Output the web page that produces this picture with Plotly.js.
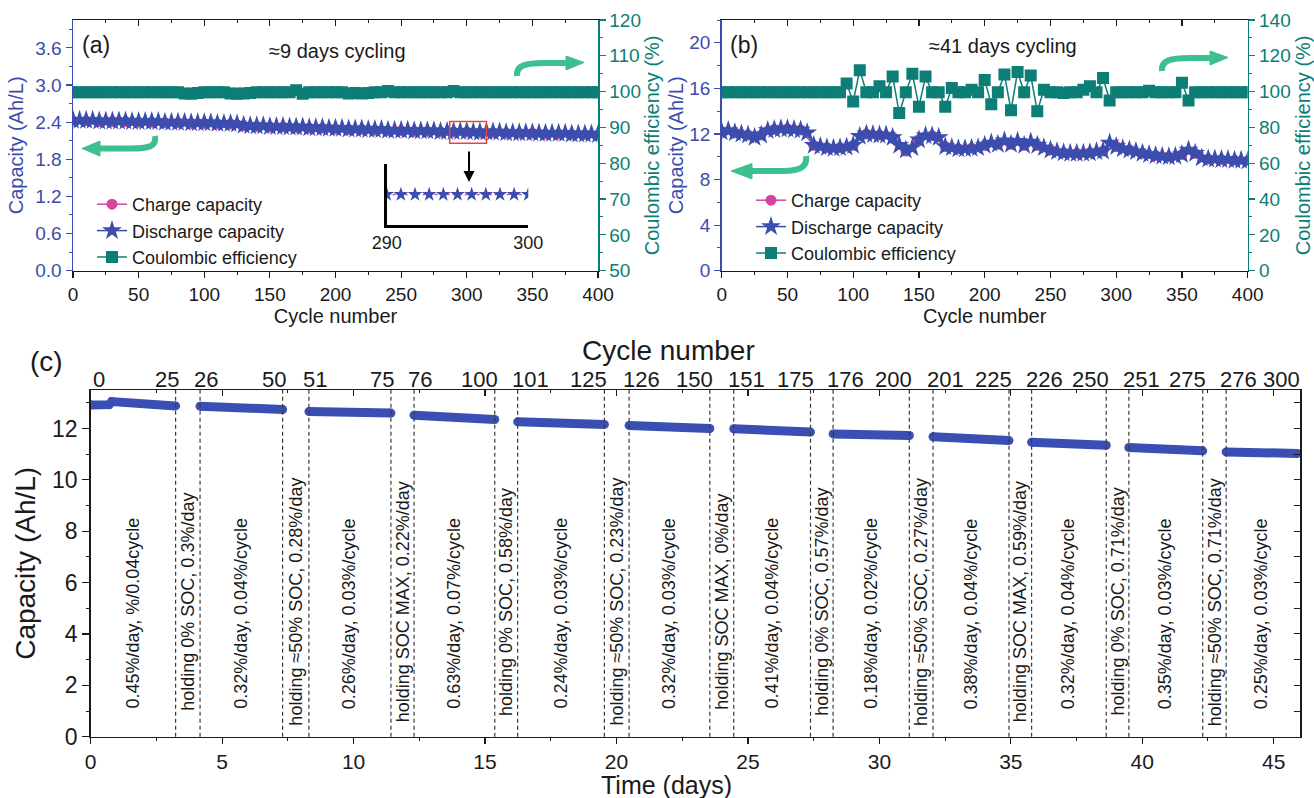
<!DOCTYPE html>
<html>
<head>
<meta charset="utf-8">
<script src="https://cdn.plot.ly/plotly-3.0.1.min.js"></script>
<style>html,body{margin:0;padding:0;background:#fff;}#chart{width:1314px;height:798px;}</style>
</head>
<body>
<div id="chart"></div>
<script>
// ---------------- DATA ----------------
// Panel (a): ~9 days cycling
const aCyc5 = [0,5,10,15,20,25,30,35,40,45,50,55,60,65,70,75,80,85,90,95,100,105,110,115,120,125,130,135,140,145,150,155,160,165,170,175,180,185,190,195,200,205,210,215,220,225,230,235,240,245,250,255,260,265,270,275,280,285,290,295,300,305,310,315,320,325,330,335,340,345,350,355,360,365,370,375,380,385,390,395,400];
const aCyc10 = [0,10,20,30,40,50,60,70,80,90,100,110,120,130,140,150,160,170,180,190,200,210,220,230,240,250,260,270,280,290,300,310,320,330,340,350,360,370,380,390,400];
const aDischarge = [2.43,2.43,2.43,2.43,2.42,2.42,2.42,2.42,2.42,2.41,
  2.41,2.41,2.41,2.41,2.40,2.40,2.40,2.40,2.39,2.39,
  2.39,2.39,2.38,2.38,2.38,2.37,2.35,2.34,2.34,2.34,
  2.33,2.33,2.33,2.32,2.32,2.32,2.31,2.31,2.31,2.30,
  2.30,2.30,2.29,2.29,2.29,2.28,2.28,2.28,2.27,2.27,
  2.27,2.27,2.26,2.26,2.26,2.26,2.25,2.25,2.25,2.25,
  2.25,2.24,2.24,2.24,2.24,2.24,2.23,2.23,2.23,2.23,
  2.23,2.22,2.22,2.22,2.22,2.22,2.21,2.21,2.21,2.21,
  2.20];
const aCharge = [2.42,2.42,2.41,2.41,2.41,2.40,2.40,2.39,2.39,2.38,
  2.38,2.37,2.37,2.34,2.33,2.32,2.32,2.31,2.30,2.30,
  2.29,2.28,2.28,2.27,2.26,2.26,2.25,2.25,2.24,2.24,
  2.24,2.23,2.23,2.22,2.22,2.22,2.21,2.21,2.20,2.20,
  2.19];
const aCE = [99.8,99.8,99.8,99.8,99.8,99.8,99.8,99.8,99.8,99.8,
  99.8,99.8,99.8,99.8,99.8,99.8,99.8,99.5,99.4,99.6,
  99.8,99.8,99.8,99.8,99.5,99.4,99.5,99.6,99.8,99.8,
  99.8,99.8,99.8,99.8,100.4,99.4,99.8,99.8,99.8,99.8,
  99.8,99.8,99.5,99.6,99.5,99.6,99.8,99.8,100.2,99.8,
  99.8,99.8,99.8,99.8,99.8,99.8,99.8,99.8,100.2,99.8,
  99.8,99.8,99.8,99.8,99.8,99.8,99.8,99.8,99.8,99.8,
  99.8,99.8,99.8,99.8,99.8,99.8,99.8,99.8,99.8,99.8,
  99.8];
// Inset of (a): cycles 290-300
const insetCyc = [290,291,292,293,294,295,296,297,298,299,300];
const insetDischarge = [2.25,2.25,2.25,2.25,2.25,2.25,2.25,2.25,2.25,2.25,2.25];
const insetCharge = [2.25,2.25,2.25,2.25,2.25,2.25,2.25,2.25,2.25,2.25,2.25];

// Panel (b): ~41 days cycling
const bDischarge = [12.2,12.3,12.1,12.0,11.9,11.7,11.9,12.3,12.4,12.45,
  12.45,12.4,12.35,12.1,11.0,10.9,10.8,10.75,10.8,10.85,
  11.0,11.8,12.0,11.95,11.9,11.9,11.7,11.0,10.6,10.8,
  11.5,11.85,11.85,11.7,10.9,10.8,10.7,10.7,10.75,10.8,
  11.0,11.2,11.1,11.4,11.1,11.35,11.0,11.3,11.0,10.8,
  10.6,10.45,10.35,10.3,10.3,10.3,10.35,10.45,10.5,11.2,
  10.9,10.7,10.6,10.45,10.3,10.2,10.1,10.05,10.0,10.05,
  10.2,10.6,10.3,9.9,9.8,9.8,9.75,9.75,9.7,9.7,
  9.65];
const bCharge = [12.2,12.1,11.9,11.9,12.4,12.45,12.35,11.0,10.8,10.8,
  11.0,12.0,11.9,11.7,10.5,11.5,11.85,10.9,10.7,10.75,
  11.0,11.1,11.1,11.0,11.0,10.6,10.35,10.3,10.35,10.5,
  10.9,10.6,10.3,10.1,10.0,10.2,10.3,9.8,9.75,9.7,
  9.65];
const bCE = [99.7,99.7,99.7,99.7,99.7,99.7,99.7,99.7,99.7,99.7,
  99.7,99.7,99.7,99.7,99.7,99.7,99.7,99.7,99.7,104.5,
  94.5,112,99.7,99.7,103,99.7,108.5,88,99.7,110,
  91.6,108.4,99.7,99.7,91.6,102,99.7,99.7,101,99.7,
  106.5,93,99.7,109.5,89.6,111,99.7,109,89,101,
  99.7,99.7,99.2,99.7,99.7,101,103,99.7,107.6,95,
  99.7,99.7,99.7,99.7,99.7,100.5,99.7,99.7,99.7,99.7,
  105,95,99.7,99.7,99.7,99.7,99.7,99.7,99.7,99.7,
  99.7];

// Panel (c): capacity vs time, 12 cycling segments separated by holding periods
const segStartCycle = [0,26,51,76,101,126,151,176,201,226,251,276];
const segEndCycle = [25,50,75,100,125,150,175,200,225,250,275,300];
const segDays = [[0,0.7,0.8,3.23],[4.16,7.30],[8.30,11.42],[12.30,15.37],[16.24,19.54],[20.48,23.55],
  [24.46,27.38],[28.24,31.14],[32.04,34.93],[35.79,38.63],[39.49,42.30],[43.19,45.90]];
const segCapacity = [[12.92,12.93,13.05,12.88],[12.87,12.74],[12.66,12.60],[12.52,12.35],[12.26,12.16],[12.12,12.00],
  [11.99,11.86],[11.79,11.73],[11.68,11.53],[11.47,11.35],[11.26,11.13],[11.09,11.03]];
const cycleLabels = ["0.45%/day, %/0.04cycle","0.32%/day, 0.04%/cycle","0.26%/day, 0.03%/cycle","0.63%/day, 0.07%/cycle",
  "0.24%/day, 0.03%/cycle","0.32%/day, 0.03%/cycle","0.41%/day, 0.04%/cycle","0.18%/day, 0.02%/cycle",
  "0.38%/day, 0.04%/cycle","0.32%/day, 0.04%/cycle","0.35%/day, 0.03%/cycle","0.25%/day, 0.03%/cycle"];
const holdLabels = ["holding 0% SOC, 0.3%/day","holding ≈50% SOC, 0.28%/day","holding SOC MAX, 0.22%/day",
  "holding 0% SOC, 0.58%/day","holding ≈50% SOC, 0.23%/day","holding SOC MAX, 0%/day",
  "holding 0% SOC, 0.57%/day","holding ≈50% SOC, 0.27%/day","holding SOC MAX, 0.59%/day",
  "holding 0% SOC, 0.71%/day","holding ≈50% SOC, 0.71%/day"];

// ---------------- STYLE ----------------
const W = 1314, H = 798;
const FONT = 'Liberation Sans, Arial, Helvetica, sans-serif';
const BLUE = '#3B4DAD', TEAL = '#0C7E76', PINK = '#D6459C', GREEN = '#3CC08E', BAND = '#3A4FB4', INK = '#1a1a1a';
const X = p => (p / W).toFixed(5);
const Y = p => (1 - p / H).toFixed(5);
const dom = (a, b) => [a / W, b / W];
const domY = (top, bot) => [1 - bot / H, 1 - top / H];

const A_X = dom(73, 598), B_X = dom(721.7, 1247.7), AB_Y = domY(20, 270.7);
const C_X = dom(90.7, 1300), C_Y = domY(390, 736.7);
const IN_X = dom(386.7, 528.3), IN_Y = domY(164, 225);

function bottomAxis(domain, anchor, range, dtick, minor, title, fs, tfs, standoff) {
  const ax = {domain, anchor, range, dtick, tick0: 0, ticks: 'outside', ticklen: 6, tickwidth: 1.2, tickcolor: INK,
    minor: {dtick: minor, ticks: 'outside', ticklen: 3, tickwidth: 1, tickcolor: INK},
    showline: true, linecolor: INK, linewidth: 1.5, showgrid: false, zeroline: false,
    tickfont: {size: tfs, color: INK, family: FONT}};
  if (title) ax.title = {text: title, font: {size: fs, color: INK, family: FONT}, standoff: standoff};
  return ax;
}
function topOverlay(over, anchor, range, dtick, minor) {
  return {overlaying: over, anchor, side: 'top', range, dtick, tick0: 0, ticks: 'inside', ticklen: 6, tickwidth: 1.2, tickcolor: INK,
    minor: {dtick: minor, ticks: 'inside', ticklen: 3, tickwidth: 1, tickcolor: INK},
    showticklabels: false, showline: true, linecolor: INK, linewidth: 1.5, showgrid: false, zeroline: false};
}
function sideAxis(opts) {
  const c = opts.color;
  return Object.assign({ticks: 'outside', ticklen: 6, tickwidth: 1.2, tickcolor: c,
    minor: {dtick: opts.minor, ticks: 'outside', ticklen: 3, tickwidth: 1, tickcolor: c},
    showline: true, linecolor: c, linewidth: 1.5, showgrid: false, zeroline: false,
    tickfont: {size: opts.tfs, color: c, family: FONT},
    title: {text: opts.title, font: {size: opts.fs, color: c, family: FONT}, standoff: opts.standoff}}, opts.extra);
}

// ---------------- TRACES ----------------
const traces = [];
function trio(xc, yc, cyc5, cyc10, chg, dis, ce, legend, yCE) {
  traces.push({x: cyc10, y: chg, xaxis: xc, yaxis: yc, type: 'scatter', mode: 'lines+markers', name: 'Charge capacity', legend,
    line: {color: PINK, width: 1.5}, marker: {symbol: 'circle', size: 11, color: PINK}});
  traces.push({x: cyc5, y: dis, xaxis: xc, yaxis: yc, type: 'scatter', mode: 'lines+markers', name: 'Discharge capacity', legend,
    line: {color: BLUE, width: 1.5}, marker: {symbol: 'star', size: 15, color: BLUE}});
  traces.push({x: cyc5, y: ce, xaxis: xc, yaxis: yCE, type: 'scatter', mode: 'lines+markers', name: 'Coulombic efficiency', legend,
    line: {color: TEAL, width: 1.5}, marker: {symbol: 'square', size: 12, color: TEAL}});
}
trio('x', 'y', aCyc5, aCyc10, aCharge, aDischarge, aCE, 'legend', 'y2');
trio('x5', 'y4', aCyc5, aCyc10, bCharge, bDischarge, bCE, 'legend2', 'y5');

// inset
traces.push({x: insetCyc, y: insetCharge, xaxis: 'x3', yaxis: 'y3', type: 'scatter', mode: 'lines', showlegend: false,
  line: {color: PINK, width: 1.5, dash: 'dot'}});
traces.push({x: insetCyc, y: insetDischarge, xaxis: 'x3', yaxis: 'y3', type: 'scatter', mode: 'markers', showlegend: false,
  marker: {symbol: 'star', size: 11, color: BLUE}});

// panel (c)
segDays.forEach((d, i) => {
  traces.push({x: d, y: segCapacity[i], xaxis: 'x7', yaxis: 'y6', type: 'scatter', mode: 'lines+markers', showlegend: false,
    line: {color: BAND, width: 9}, marker: {symbol: 'circle', size: 9, color: BAND}});
});
// empty traces to bind overlay axes
[['x4','y'],['x6','y4'],['x8','y6'],['x7','y7']].forEach(([xa, ya]) =>
  traces.push({x: [], y: [], xaxis: xa, yaxis: ya, type: 'scatter', mode: 'markers', showlegend: false, hoverinfo: 'skip'}));

// ---------------- ANNOTATIONS & SHAPES ----------------
const ann = [];
const shapes = [];
const txt = (x, y, text, size, extra) => ann.push(Object.assign({xref: 'paper', yref: 'paper', x: x / W, y: 1 - y / H, text, showarrow: false,
  xanchor: 'center', yanchor: 'middle', font: {size, color: INK, family: FONT}}, extra || {}));

txt(96, 45, '(a)', 23);
txt(337, 51, '≈9 days cycling', 20);
txt(744, 45, '(b)', 23);
txt(1003, 46, '≈41 days cycling', 20);
txt(46, 362, '(c)', 28);
txt(668, 350, 'Cycle number', 28);
txt(666, 785, 'Time (days)', 25);

// black arrow from red box to inset
ann.push({xref: 'paper', yref: 'paper', x: 469 / W, y: 1 - 182 / H, ax: 0, ay: -32, text: '', showarrow: true,
  arrowhead: 2, arrowsize: 1.1, arrowwidth: 2, arrowcolor: '#000'});
// red zoom box in (a)
shapes.push({type: 'rect', xref: 'x', yref: 'y', x0: 287, x1: 315, y0: 2.06, y1: 2.41, line: {color: '#E5483D', width: 1.5}});

// green curved arrows
function greenArrow(shaft, head) {
  shapes.push({type: 'path', xref: 'paper', yref: 'paper', path: shaft, line: {color: GREEN, width: 6}, fillcolor: 'rgba(0,0,0,0)'});
  shapes.push({type: 'path', xref: 'paper', yref: 'paper', path: head, line: {color: GREEN, width: 1}, fillcolor: GREEN});
}
greenArrow(`M${X(155)},${Y(136)} C${X(157)},${Y(147)} ${X(148)},${Y(148.5)} ${X(130)},${Y(148.5)} L${X(99)},${Y(148.5)}`,
  `M${X(100)},${Y(141)} L${X(82)},${Y(148.5)} L${X(100)},${Y(156)} Z`);
greenArrow(`M${X(517)},${Y(76)} C${X(516)},${Y(65)} ${X(526)},${Y(63)} ${X(545)},${Y(63)} L${X(567)},${Y(63)}`,
  `M${X(566)},${Y(56)} L${X(584)},${Y(62.5)} L${X(566)},${Y(70)} Z`);
greenArrow(`M${X(806)},${Y(156)} C${X(808)},${Y(169)} ${X(797)},${Y(171)} ${X(778)},${Y(171)} L${X(751)},${Y(171)}`,
  `M${X(752)},${Y(163.5)} L${X(731)},${Y(171)} L${X(752)},${Y(179)} Z`);
greenArrow(`M${X(1162)},${Y(71)} C${X(1161)},${Y(60)} ${X(1171)},${Y(58)} ${X(1190)},${Y(58)} L${X(1211)},${Y(58)}`,
  `M${X(1210)},${Y(51)} L${X(1228)},${Y(57.5)} L${X(1210)},${Y(65)} Z`);

// panel (c): dashed boundaries, top cycle labels, rotated labels
segDays.forEach((d, i) => {
  const s = d[0], e = d[d.length - 1];
  if (i > 0) shapes.push({type: 'line', xref: 'x7', yref: 'y6 domain', x0: s, x1: s, y0: 0, y1: 1,
    line: {color: '#3a3a3a', width: 1.2, dash: '4px,3px'}});
  if (i < segDays.length - 1) shapes.push({type: 'line', xref: 'x7', yref: 'y6 domain', x0: e, x1: e, y0: 0, y1: 1,
    line: {color: '#3a3a3a', width: 1.2, dash: '4px,3px'}});
  const ly = 1 - 379 / H;
  ann.push({xref: 'x7', yref: 'paper', x: s, y: ly, text: String(segStartCycle[i]), showarrow: false, xanchor: 'left',
    xshift: i === 0 ? 0 : -8, yanchor: 'middle', font: {size: 22, color: INK, family: FONT}});
  ann.push({xref: 'x7', yref: 'paper', x: e, y: ly, text: String(segEndCycle[i]), showarrow: false, xanchor: 'right',
    xshift: 5, yanchor: 'middle', font: {size: 22, color: INK, family: FONT}});
  ann.push({xref: 'x7', yref: 'y6', x: (s + e) / 2, y: 4.8, text: cycleLabels[i], showarrow: false, textangle: -90,
    xanchor: 'center', yanchor: 'middle', font: {size: 18, color: INK, family: FONT}});
  if (i < segDays.length - 1) {
    const ns = segDays[i + 1][0];
    ann.push({xref: 'x7', yref: 'y6', x: (e + ns) / 2, y: 5.25, text: holdLabels[i], showarrow: false, textangle: -90,
      xanchor: 'center', yanchor: 'middle', font: {size: 18, color: INK, family: FONT}});
  }
});

// ---------------- LAYOUT ----------------
const legendBase = {xanchor: 'left', yanchor: 'top', bgcolor: 'rgba(0,0,0,0)', borderwidth: 0, tracegroupgap: 0,
  font: {size: 18, color: INK, family: FONT}, itemsizing: 'trace'};

const layout = {
  width: W, height: H, margin: {l: 0, r: 0, t: 0, b: 0}, paper_bgcolor: '#fff', plot_bgcolor: 'rgba(0,0,0,0)',
  font: {family: FONT, color: INK}, showlegend: true,
  legend: Object.assign({x: 92 / W, y: 1 - 186 / H}, legendBase),
  legend2: Object.assign({x: 751 / W, y: 1 - 182 / H}, legendBase),
  // (a)
  xaxis: bottomAxis(A_X, 'y', [0, 400], 50, 25, 'Cycle number', 20, 19, 5),
  xaxis4: topOverlay('x', 'y', [0, 400], 50, 25),
  yaxis: sideAxis({color: BLUE, minor: 0.3, tfs: 19, fs: 20, title: 'Capacity (Ah/L)', standoff: 6,
    extra: {domain: AB_Y, anchor: 'x', range: [0, 4.05], dtick: 0.6, tick0: 0, tickformat: '.1f'}}),
  yaxis2: sideAxis({color: TEAL, minor: 5, tfs: 19, fs: 20, title: 'Coulombic efficiency (%)', standoff: 3,
    extra: {overlaying: 'y', anchor: 'x', side: 'right', range: [50, 120], dtick: 10, tick0: 0}}),
  // inset
  xaxis3: {domain: IN_X, anchor: 'y3', range: [290, 300], tickvals: [290, 300], ticktext: ['290', '300'], ticks: '',
    showline: true, linecolor: '#000', linewidth: 2.5, showgrid: false, zeroline: false,
    tickfont: {size: 18, color: INK, family: FONT}},
  yaxis3: {domain: IN_Y, anchor: 'x3', range: [2.0, 2.5], showticklabels: false, ticks: '',
    showline: true, linecolor: '#000', linewidth: 2.5, showgrid: false, zeroline: false},
  // (b)
  xaxis5: bottomAxis(B_X, 'y4', [0, 400], 50, 25, 'Cycle number', 20, 19, 5),
  xaxis6: topOverlay('x5', 'y4', [0, 400], 50, 25),
  yaxis4: sideAxis({color: BLUE, minor: 2, tfs: 19, fs: 20, title: 'Capacity (Ah/L)', standoff: 0,
    extra: {domain: AB_Y, anchor: 'x5', range: [0, 22], dtick: 4, tick0: 0}}),
  yaxis5: sideAxis({color: TEAL, minor: 10, tfs: 19, fs: 20, title: 'Coulombic efficiency (%)', standoff: 6,
    extra: {overlaying: 'y4', anchor: 'x5', side: 'right', range: [0, 140], dtick: 20, tick0: 0}}),
  // (c)
  xaxis7: bottomAxis(C_X, 'y6', [0, 46], 5, 2.5, null, 0, 21, 0),
  xaxis8: topOverlay('x7', 'y6', [0, 46], 5, 2.5),
  yaxis6: sideAxis({color: INK, minor: 1, tfs: 23, fs: 28, title: 'Capacity (Ah/L)', standoff: 8,
    extra: {domain: C_Y, anchor: 'x7', range: [0, 13.5], dtick: 2, tick0: 0, ticklen: 7}}),
  yaxis7: {overlaying: 'y6', anchor: 'x7', side: 'right', range: [0, 13.5], dtick: 1, tick0: 0, ticks: 'inside', ticklen: 6,
    tickcolor: INK, showticklabels: false, showline: true, linecolor: INK, linewidth: 1.5, showgrid: false, zeroline: false},
  annotations: ann,
  shapes: shapes
};

Plotly.newPlot('chart', traces, layout, {staticPlot: true, displayModeBar: false});
</script>
</body>
</html>
